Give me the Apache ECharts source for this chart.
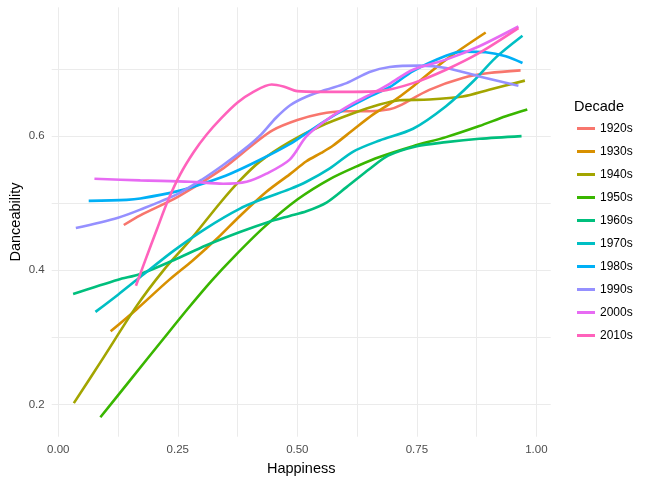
<!DOCTYPE html>
<html>
<head>
<meta charset="utf-8">
<script src="https://cdn.jsdelivr.net/npm/echarts@6/dist/echarts.min.js"></script>
<style>
  html, body { margin: 0; padding: 0; background: #fff; }
  #chart { width: 647px; height: 481px; }
</style>
</head>
<body>
<div id="chart"></div>
<script>
// smoothed danceability vs happiness, one curve per decade
var decades = ['1920s', '1930s', '1940s', '1950s', '1960s', '1970s', '1980s', '1990s', '2000s', '2010s'];
var colors = ['#F8766D', '#D89000', '#A3A500', '#39B600', '#00BF7D', '#00BFC4', '#00B0F6', '#9590FF', '#E76BF3', '#FF62BC'];

var xTicks = [0, 0.25, 0.5, 0.75, 1];
var xGrid = [0, 0.125, 0.25, 0.375, 0.5, 0.625, 0.75, 0.875, 1];
var yTicks = [0.2, 0.4, 0.6];
var yGrid = [0.2, 0.3, 0.4, 0.5, 0.6, 0.7];

var d1920 = [[0.137,0.4675],[0.1715,0.482],[0.25,0.5095],[0.345,0.552],[0.408,0.588],[0.449,0.609],[0.5,0.624],[0.547,0.633],[0.596,0.637],[0.651,0.637],[0.693,0.640],[0.714,0.6455],[0.776,0.669],[0.846,0.6866],[0.901,0.694],[0.967,0.698]];
var d1930 = [[0.1095,0.309],[0.164,0.342],[0.2306,0.385],[0.28,0.414],[0.31,0.433],[0.339,0.452],[0.38,0.481],[0.4354,0.517],[0.484,0.543],[0.519,0.5625],[0.55,0.575],[0.575,0.586],[0.617,0.6095],[0.658,0.632],[0.693,0.648],[0.742,0.674],[0.811,0.714],[0.894,0.7545]];
var d1940 = [[0.0325,0.202],[0.09,0.265],[0.164,0.347],[0.22,0.40],[0.2757,0.445],[0.338,0.500],[0.380,0.534],[0.4215,0.562],[0.484,0.5915],[0.547,0.6144],[0.617,0.634],[0.672,0.647],[0.714,0.6535],[0.776,0.6545],[0.846,0.659],[0.901,0.669],[0.976,0.6827]];
var d1950 = [[0.088,0.181],[0.15,0.236],[0.22,0.298],[0.27,0.342],[0.32,0.384],[0.37,0.422],[0.43,0.464],[0.5,0.5055],[0.568,0.536],[0.6306,0.557],[0.672,0.569],[0.742,0.585],[0.811,0.5985],[0.8806,0.615],[0.936,0.6297],[0.981,0.6396]];
var d1960 = [[0.031,0.3647],[0.125,0.386],[0.1715,0.3945],[0.241,0.415],[0.310,0.4373],[0.380,0.457],[0.44,0.472],[0.484,0.481],[0.519,0.488],[0.561,0.501],[0.603,0.524],[0.651,0.551],[0.69,0.571],[0.75,0.585],[0.811,0.591],[0.8806,0.596],[0.969,0.600]];
var d1970 = [[0.0777,0.338],[0.125,0.3637],[0.1715,0.390],[0.241,0.429],[0.310,0.463],[0.38,0.492],[0.43,0.507],[0.484,0.521],[0.519,0.532],[0.568,0.552],[0.617,0.577],[0.672,0.5935],[0.742,0.611],[0.811,0.6446],[0.867,0.681],[0.915,0.717],[0.971,0.7495]];
var d1980 = [[0.0636,0.5035],[0.143,0.505],[0.1715,0.507],[0.25,0.518],[0.31,0.531],[0.36,0.544],[0.42,0.564],[0.484,0.588],[0.519,0.6045],[0.582,0.633],[0.651,0.659],[0.693,0.673],[0.742,0.697],[0.811,0.7198],[0.846,0.726],[0.894,0.725],[0.936,0.719],[0.971,0.709]];
var d1990 = [[0.0367,0.463],[0.125,0.4785],[0.1715,0.4905],[0.25,0.514],[0.30,0.535],[0.345,0.557],[0.39,0.581],[0.425,0.603],[0.455,0.627],[0.485,0.646],[0.52,0.659],[0.56,0.669],[0.603,0.679],[0.651,0.6955],[0.693,0.703],[0.756,0.705],[0.811,0.7015],[0.8806,0.689],[0.9625,0.675]];
var d2000 = [[0.0756,0.5365],[0.1715,0.534],[0.2757,0.532],[0.345,0.529],[0.394,0.532],[0.4354,0.544],[0.484,0.565],[0.519,0.5995],[0.561,0.624],[0.617,0.649],[0.658,0.664],[0.693,0.678],[0.742,0.699],[0.811,0.714],[0.8806,0.734],[0.9625,0.7634]];
var d2010 = [[0.1624,0.377],[0.1815,0.414],[0.206,0.4605],[0.23,0.505],[0.255,0.543],[0.283,0.576],[0.31,0.602],[0.34,0.626],[0.375,0.65],[0.408,0.666],[0.4465,0.677],[0.471,0.674],[0.5,0.667],[0.547,0.666],[0.617,0.666],[0.672,0.667],[0.742,0.679],[0.811,0.699],[0.8806,0.724],[0.9625,0.761]];

var curves = [d1920, d1930, d1940, d1950, d1960, d1970, d1980, d1990, d2000, d2010];

var chart = echarts.init(document.getElementById('chart'), null, { renderer: 'canvas' });

var series = [];
for (var i = 0; i < decades.length; i++) {
  series.push({
    name: decades[i],
    type: 'line',
    data: curves[i],
    showSymbol: false,
    smooth: 0.3,
    lineStyle: { width: 2.6, color: colors[i] },
    itemStyle: { color: colors[i] }
  });
}

var option = {
  animation: false,
  backgroundColor: '#ffffff',
  textStyle: { fontFamily: 'Liberation Sans, Arial, sans-serif' },
  title: {
    text: 'Decade',
    left: 574,
    top: 99,
    padding: 0,
    textStyle: { fontSize: 14.5, fontWeight: 'normal', color: '#000', fontFamily: 'Liberation Sans' }
  },
  legend: {
    orient: 'vertical',
    left: 577,
    top: 121.5,
    padding: 0,
    itemWidth: 18,
    itemHeight: 3,
    itemGap: 9,
    icon: 'rect',
    data: decades,
    textStyle: { fontSize: 12, color: '#000', lineHeight: 14, padding: [0, 0, 0, 0], fontFamily: 'Liberation Sans' }
  },
  grid: { left: 51.7, right: 96.3, top: 7.3, bottom: 44.3, outerBoundsMode: 'none', containLabel: false },
  xAxis: {
    type: 'value',
    min: -0.0138,
    max: 1.03,
    name: 'Happiness',
    nameLocation: 'middle',
    nameGap: 24.5,
    nameMoveOverlap: false,
    nameTextStyle: { fontSize: 14.5, color: '#000' },
    axisLine: { show: false },
    axisTick: { show: false, customValues: xGrid },
    axisLabel: {
      customValues: xTicks,
      margin: 7,
      fontSize: 11.5,
      color: '#4D4D4D',
      formatter: function (v) { return v.toFixed(2); }
    },
    splitLine: { show: true, lineStyle: { color: '#EBEBEB', width: 1 } }
  },
  yAxis: {
    type: 'value',
    min: 0.152,
    max: 0.792,
    name: 'Danceability',
    nameLocation: 'middle',
    nameGap: 28,
    nameMoveOverlap: false,
    nameTextStyle: { fontSize: 14.5, color: '#000' },
    axisLine: { show: false },
    axisTick: { show: false, customValues: yGrid },
    axisLabel: {
      customValues: yTicks,
      margin: 7,
      fontSize: 11.5,
      color: '#4D4D4D',
      formatter: function (v) { return v.toFixed(1); }
    },
    splitLine: { show: true, lineStyle: { color: '#EBEBEB', width: 1 } }
  },
  series: series
};

chart.setOption(option);
</script>
</body>
</html>
